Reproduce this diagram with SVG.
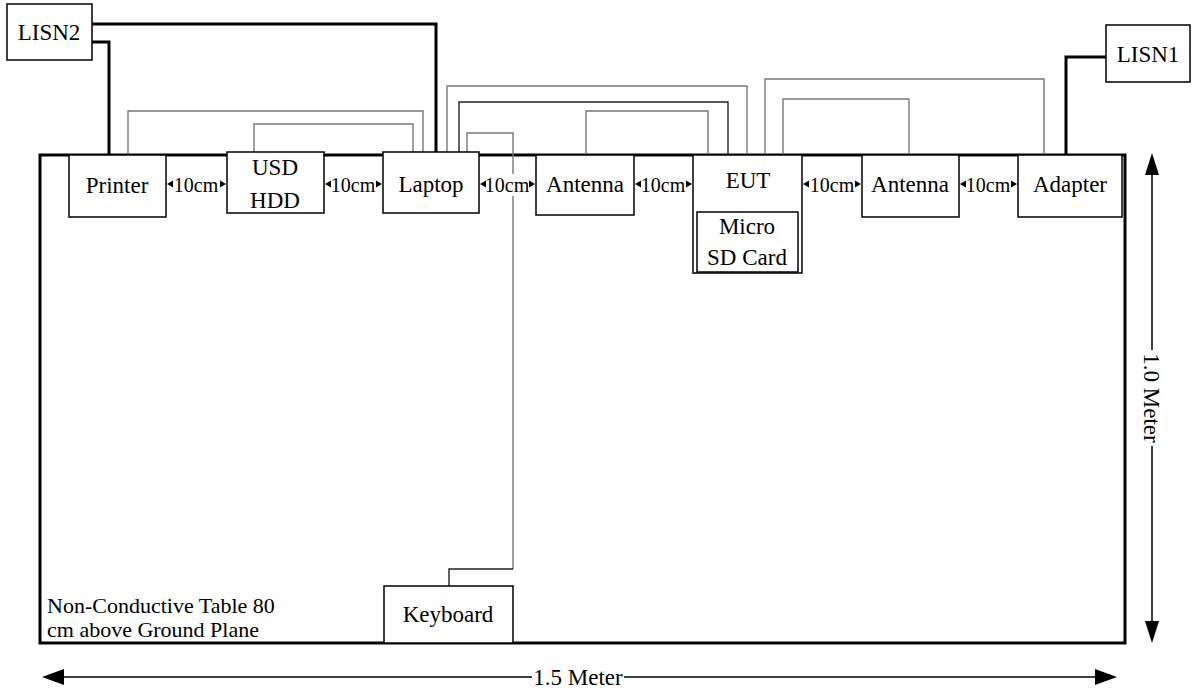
<svg xmlns="http://www.w3.org/2000/svg" width="1192" height="690" viewBox="0 0 1192 690">
<style>
text{font-family:"Liberation Serif","Times New Roman",serif;font-size:23px;fill:#000;text-anchor:middle}
.box{fill:#fff;stroke:#000;stroke-width:1.5}
.thick{fill:none;stroke:#000;stroke-width:3}
.thin{fill:none;stroke:#777;stroke-width:1.4}
.thinb{fill:none;stroke:#222;stroke-width:1.4}
.dim{fill:none;stroke:#000;stroke-width:1.5}
.lbl{text-anchor:start;font-size:22px}
.cm{font-size:20px}
</style>
<defs>
<polygon id="al" points="0,0 6,-3.5 6,3.5" fill="#000"/>
<polygon id="ar" points="0,0 -6,-3.5 -6,3.5" fill="#000"/>
</defs>
<rect width="1192" height="690" fill="#fff"/>
<g id="table">
<rect x="40" y="155" width="1085" height="488" fill="#fff" stroke="#000" stroke-width="3"/>
<text class="lbl" x="47" y="613">Non-Conductive Table 80</text>
<text class="lbl" x="47" y="637">cm above Ground Plane</text>
</g>
<g id="connectors">
<path class="thick" d="M92,24 H436 V152"/>
<path class="thick" d="M92,42 H109 V155"/>
<path class="thick" d="M1106,57 H1066 V155"/>
<path class="thin" d="M128,155 V111 H423 V152"/>
<path class="thin" d="M254,152 V124 H413 V152"/>
<path class="thin" d="M447,152 V86 H747 V155"/>
<path class="thinb" d="M459,152 V102 H728 V155"/>
<path class="thin" d="M467,152 V133 H513 V569"/>
<path class="thinb" d="M513,569 H449 V586"/>
<path class="thin" d="M586,155 V111 H708 V155"/>
<path class="thin" d="M765,155 V79 H1044 V155"/>
<path class="thin" d="M783,155 V99 H909 V155"/>
</g>
<g id="LISN2"><rect class="box" x="7" y="4" width="85" height="56"/><text x="49" y="40">LISN2</text></g>
<g id="LISN1"><rect class="box" x="1106" y="25" width="84" height="57"/><text x="1148" y="62">LISN1</text></g>
<g id="Printer"><rect class="box" x="69" y="155" width="97" height="62"/><text x="117" y="193">Printer</text></g>
<g id="USDHDD"><rect class="box" x="227" y="152" width="97" height="61"/><text x="275" y="175">USD</text><text x="275" y="208">HDD</text></g>
<g id="Laptop"><rect class="box" x="383" y="152" width="96" height="61"/><text x="431" y="192">Laptop</text></g>
<g id="Antenna1"><rect class="box" x="536" y="155" width="98" height="60"/><text x="585" y="192">Antenna</text></g>
<g id="EUT"><rect class="box" x="693" y="155" width="109" height="118"/><text x="748" y="188">EUT</text></g>
<g id="MicroSD"><rect class="box" x="697" y="212" width="101" height="60"/><text x="747" y="234">Micro</text><text x="747" y="265">SD Card</text></g>
<g id="Antenna2"><rect class="box" x="862" y="155" width="97" height="62"/><text x="910" y="192">Antenna</text></g>
<g id="Adapter"><rect class="box" x="1018" y="155" width="104" height="62"/><text x="1070" y="192">Adapter</text></g>
<g id="Keyboard"><rect class="box" x="384" y="586" width="129" height="57"/><text x="448" y="622">Keyboard</text></g>
<g id="spacing">
<text class="cm" x="196" y="192">10cm</text><use href="#al" x="167" y="184"/><use href="#ar" x="226" y="184"/>
<text class="cm" x="353" y="192">10cm</text><use href="#al" x="325" y="184"/><use href="#ar" x="382" y="184"/>
<rect x="486" y="174" width="44" height="22" fill="#fff"/>
<text class="cm" x="507" y="192">10cm</text><use href="#al" x="480" y="184"/><use href="#ar" x="535" y="184"/>
<text class="cm" x="663" y="192">10cm</text><use href="#al" x="635" y="184"/><use href="#ar" x="692" y="184"/>
<text class="cm" x="832" y="192">10cm</text><use href="#al" x="803" y="184"/><use href="#ar" x="861" y="184"/>
<text class="cm" x="988" y="192">10cm</text><use href="#al" x="960" y="184"/><use href="#ar" x="1017" y="184"/>
</g>
<g id="dimensions">
<path class="dim" d="M60,677 H532 M624,677 H1100"/>
<polygon points="42,677 64,669 64,685" fill="#000"/>
<polygon points="1117,677 1095,669 1095,685" fill="#000"/>
<text x="578" y="685" font-size="23">1.5 Meter</text>
<path class="dim" d="M1152,172 V350 M1152,446 V625"/>
<polygon points="1152,153 1145,175 1159,175" fill="#000"/>
<polygon points="1152,643 1145,621 1159,621" fill="#000"/>
<text x="0" y="0" font-size="23" transform="translate(1144,398) rotate(90)">1.0 Meter</text>
</g>
</svg>
